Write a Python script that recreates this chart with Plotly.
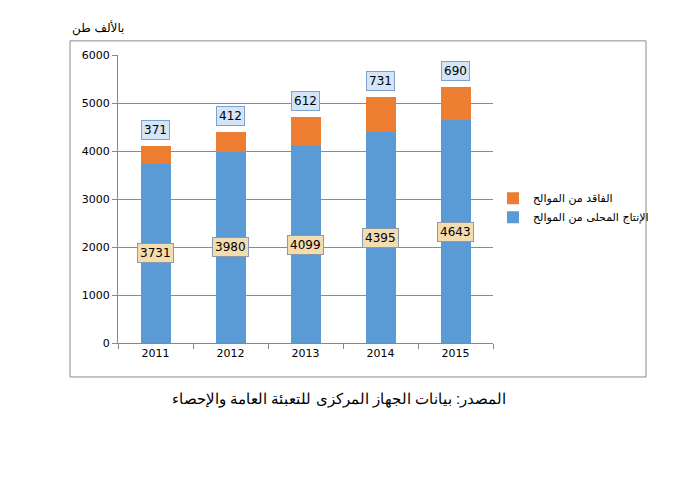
import plotly.graph_objects as go

years = ["2011", "2012", "2013", "2014", "2015"]
local_production = [3731, 3980, 4099, 4395, 4643]
port_losses = [371, 412, 612, 731, 690]

name_local = "الإنتاج المحلى من الموالح"
name_loss = "الفاقد من الموالح"
unit_label = "بالألف طن"
source_note = "المصدر: بيانات الجهاز المركزى للتعبئة العامة والإحصاء"

fig = go.Figure()
fig.add_trace(go.Bar(x=years, y=local_production, name=name_local,
                     marker=dict(color="#5b9bd5", line=dict(width=0)), width=0.4))
fig.add_trace(go.Bar(x=years, y=port_losses, name=name_loss,
                     marker=dict(color="#ed7d31", line=dict(width=0)), width=0.4))

# boxed value labels (category index so they don't disturb the axis range)
for i, (base, loss) in enumerate(zip(local_production, port_losses)):
    fig.add_annotation(x=i, y=base / 2, text=str(base), showarrow=False,
                       font=dict(size=12, color="black", family="DejaVu Sans"),
                       bgcolor="#f3dcae", bordercolor="#8a9bb0", borderwidth=1, borderpad=2)
    fig.add_annotation(x=i, y=base + loss, yshift=16, text=str(loss), showarrow=False,
                       font=dict(size=12, color="black", family="DejaVu Sans"),
                       bgcolor="#d4e5f8", bordercolor="#7ea2cc", borderwidth=1, borderpad=2)

fig.add_annotation(xref="paper", yref="paper", x=-0.128, y=1.06, xanchor="left", yanchor="bottom",
                   text=unit_label, showarrow=False, font=dict(size=12, color="black"))
fig.add_annotation(xref="paper", yref="paper", x=0.59, y=-0.195, xanchor="center", yanchor="middle",
                   text=source_note, showarrow=False,
                   font=dict(size=15, color="black", family="Liberation Sans"))

fig.add_shape(type="rect", xref="paper", yref="paper", x0=-0.128, x1=1.408, y0=-0.118, y1=1.049,
              line=dict(color="#8c8c8c", width=1), fillcolor="rgba(0,0,0,0)", layer="below")

fig.update_layout(
    barmode="stack",
    width=685, height=483,
    margin=dict(l=110, r=200, t=47, b=148),
    plot_bgcolor="white", paper_bgcolor="white",
    font=dict(family="DejaVu Sans", size=11, color="black"),
    showlegend=True,
    legend=dict(x=1.0, y=0.47, xanchor="left", yanchor="middle", traceorder="reversed",
                font=dict(size=11, family="DejaVu Sans"), itemwidth=30,
                bgcolor="rgba(0,0,0,0)"),
    xaxis=dict(type="category", range=[-0.5, len(years) - 0.5], showline=True,
               linecolor="#888888", tickson="boundaries", ticks="outside", ticklen=5,
               tickcolor="#888888", showgrid=False, tickfont=dict(size=11)),
    yaxis=dict(range=[0, 6000], dtick=1000, showline=True, linecolor="#888888",
               ticks="outside", ticklen=5, tickcolor="#888888", gridcolor="#8c8c8c",
               gridwidth=1, zeroline=False, tickfont=dict(size=11)),
)

fig.write_html("out.html")
